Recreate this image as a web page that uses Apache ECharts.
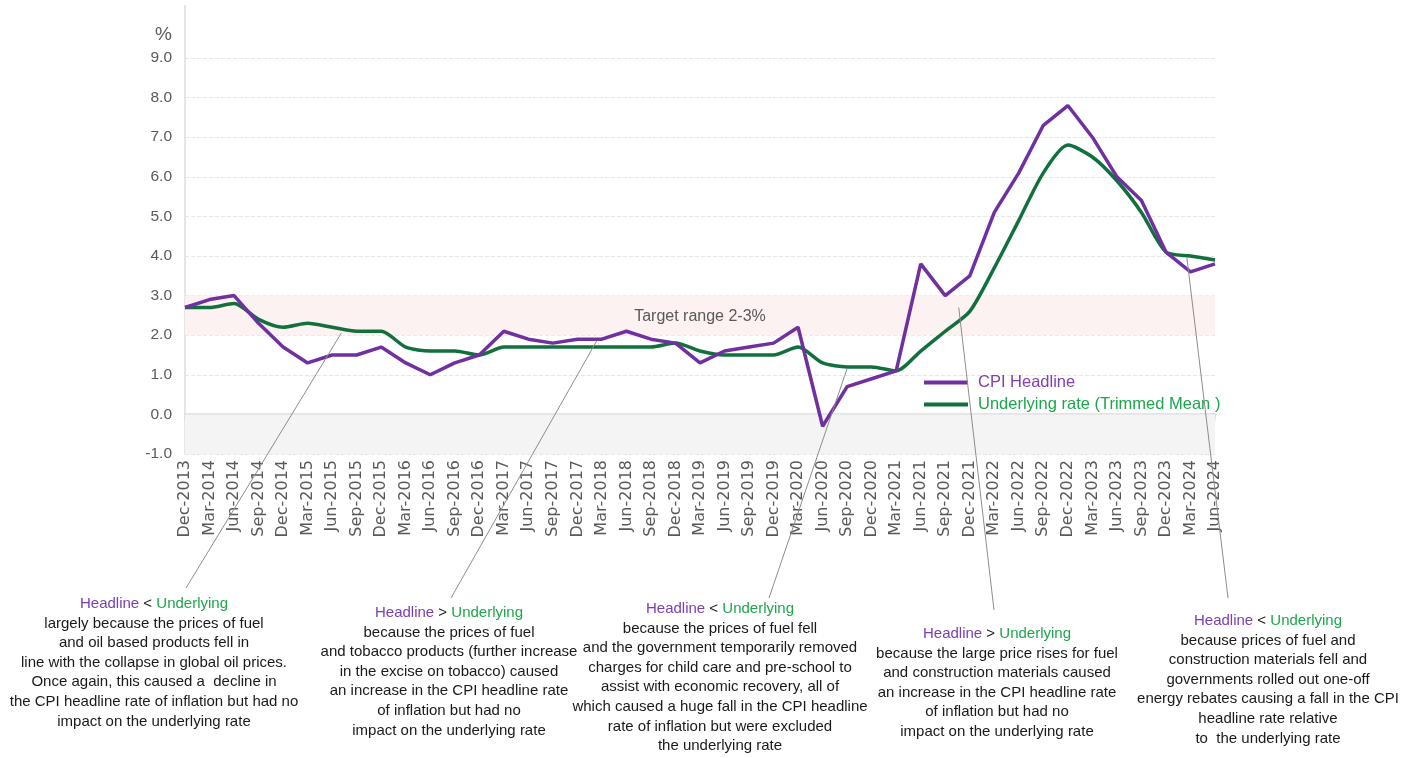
<!DOCTYPE html>
<html>
<head>
<meta charset="utf-8">
<script src="https://cdn.jsdelivr.net/npm/echarts@6/dist/echarts.min.js"></script>
<style>
    html, body { margin: 0; padding: 0; background: #fff; }
    #lineChartId { width: 1415px; height: 758px; }
</style>
</head>
<body>
<div id="lineChartId"></div>
<script>
const categories = [
    'Dec-2013', 'Mar-2014', 'Jun-2014', 'Sep-2014', 'Dec-2014', 'Mar-2015', 'Jun-2015', 'Sep-2015',
    'Dec-2015', 'Mar-2016', 'Jun-2016', 'Sep-2016', 'Dec-2016', 'Mar-2017', 'Jun-2017', 'Sep-2017',
    'Dec-2017', 'Mar-2018', 'Jun-2018', 'Sep-2018', 'Dec-2018', 'Mar-2019', 'Jun-2019', 'Sep-2019',
    'Dec-2019', 'Mar-2020', 'Jun-2020', 'Sep-2020', 'Dec-2020', 'Mar-2021', 'Jun-2021', 'Sep-2021',
    'Dec-2021', 'Mar-2022', 'Jun-2022', 'Sep-2022', 'Dec-2022', 'Mar-2023', 'Jun-2023', 'Sep-2023',
    'Dec-2023', 'Mar-2024', 'Jun-2024',
];
const cpiHeadline = [
    2.7, 2.9, 3.0, 2.3, 1.7, 1.3, 1.5, 1.5, 1.7, 1.3, 1.0, 1.3, 1.5, 2.1, 1.9, 1.8,
    1.9, 1.9, 2.1, 1.9, 1.8, 1.3, 1.6, 1.7, 1.8, 2.2, -0.3, 0.7, 0.9, 1.1, 3.8, 3.0,
    3.5, 5.1, 6.1, 7.3, 7.8, 7.0, 6.0, 5.4, 4.1, 3.6, 3.8,
];
const trimmedMean = [
    2.7, 2.7, 2.8, 2.4, 2.2, 2.3, 2.2, 2.1, 2.1, 1.7, 1.6, 1.6, 1.5, 1.7, 1.7, 1.7,
    1.7, 1.7, 1.7, 1.7, 1.8, 1.6, 1.5, 1.5, 1.5, 1.7, 1.3, 1.2, 1.2, 1.1, 1.6, 2.1,
    2.6, 3.7, 4.9, 6.1, 6.8, 6.5, 5.9, 5.1, 4.1, 4.0, 3.9,
];
const targetRange = [2, 3];
const negativeBand = [-1, 0];

// annotation blocks: [heading sign, body lines]
const notes = [
    { sign: '<', lines: ['largely because the prices of fuel', 'and oil based products fell in', 'line with the collapse in global oil prices.', 'Once again, this caused a  decline in', 'the CPI headline rate of inflation but had no', 'impact on the underlying rate'] },
    { sign: '>', lines: ['because the prices of fuel', 'and tobacco products (further increase', 'in the excise on tobacco) caused', 'an increase in the CPI headline rate', 'of inflation but had no', 'impact on the underlying rate'] },
    { sign: '<', lines: ['because the prices of fuel fell', 'and the government temporarily removed', 'charges for child care and pre-school to', 'assist with economic recovery, all of', 'which caused a huge fall in the CPI headline', 'rate of inflation but were excluded', 'the underlying rate'] },
    { sign: '>', lines: ['because the large price rises for fuel', 'and construction materials caused', 'an increase in the CPI headline rate', 'of inflation but had no', 'impact on the underlying rate'] },
    { sign: '<', lines: ['because prices of fuel and', 'construction materials fell and', 'governments rolled out one-off', 'energy rebates causing a fall in the CPI', 'headline rate relative', 'to  the underlying rate'] },
];
// where each leader line touches the chart: [category index, value]
const leaderAnchors = [[6.37, 2.05], [16.8, 1.87], [27.0, 1.16], [31.55, 2.7], [40.85, 3.97]];

const PURPLE = '#7030a0';
const GREEN = '#11703b';
const TEXT_FONT = '"Liberation Sans Narrow", "Liberation Sans", sans-serif';

function initChart() {
    const itemChart = echarts.init(document.getElementById('lineChartId'));
    const option = {
        animation: false,
        grid: { left: 185, right: 200, top: 58, bottom: 304 },
        legend: {
            left: 919,
            top: 369,
            orient: 'vertical',
            itemWidth: 44,
            itemHeight: 4,
            itemGap: 5,
            icon: 'rect',
            textStyle: { fontSize: 16.5, fontFamily: TEXT_FONT, padding: [0, 0, 0, 5] },
            data: [
                { name: 'CPI Headline', textStyle: { color: '#8040b0' } },
                { name: 'Underlying rate (Trimmed Mean )', textStyle: { color: '#1ca64c' } },
            ],
        },
        xAxis: {
            type: 'category',
            data: categories,
            boundaryGap: false,
            axisLine: { onZero: true, lineStyle: { color: '#dcdcdc', width: 2.5 } },
            axisTick: { show: true, interval: 0, length: 6, lineStyle: { color: '#dcdcdc', width: 1.5 } },
            axisLabel: {
                interval: 0,
                rotate: 90,
                margin: 6,
                color: '#595959',
                fontSize: 16,
                fontFamily: '"DejaVu Sans", sans-serif',
            },
        },
        yAxis: {
            type: 'value',
            min: -1,
            max: 9,
            interval: 1,
            name: '%',
            nameLocation: 'end',
            nameGap: 14,
            nameTextStyle: { color: '#595959', fontSize: 19, fontFamily: TEXT_FONT, align: 'right', padding: [0, 13, 0, 0] },
            axisLine: { show: true, lineStyle: { color: '#dcdcdc', width: 1.5 } },
            axisTick: { show: false },
            axisLabel: {
                margin: 13,
                color: '#595959',
                fontSize: 15.5,
                fontFamily: TEXT_FONT,
                formatter: (v) => v.toFixed(1),
            },
            splitLine: { show: true, lineStyle: { color: '#e6e6e6', type: 'dashed' } },
        },
        series: [
            {
                name: 'CPI Headline',
                type: 'line',
                data: cpiHeadline,
                showSymbol: false,
                color: PURPLE,
                lineStyle: { width: 3.5, color: PURPLE },
                z: 3,
                markArea: {
                    silent: true,
                    data: [
                        [{ yAxis: targetRange[0], itemStyle: { color: '#fdf2f2' } }, { yAxis: targetRange[1] }],
                        [{ yAxis: negativeBand[0], itemStyle: { color: '#f4f4f4' } }, { yAxis: negativeBand[1] }],
                    ],
                },
            },
            {
                name: 'Underlying rate (Trimmed Mean )',
                type: 'line',
                data: trimmedMean,
                showSymbol: false,
                smooth: 0.25,
                color: GREEN,
                lineStyle: { width: 3.5, color: GREEN },
                z: 2,
            },
        ],
    };
    itemChart.setOption(option, true);

    // pixel of a (fractional) category index / value pair
    const toPixel = (idx, val) => {
        const lo = Math.floor(idx);
        const hi = Math.min(lo + 1, categories.length - 1);
        const p0 = itemChart.convertToPixel({ seriesIndex: 0 }, [lo, val]);
        const p1 = itemChart.convertToPixel({ seriesIndex: 0 }, [hi, val]);
        return [p0[0] + (p1[0] - p0[0]) * (idx - lo), p0[1]];
    };

    const noteBoxes = [
        { x: 154, y: 594, endX: 186, endY: 588 },
        { x: 449, y: 603, endX: 451, endY: 598 },
        { x: 720, y: 599, endX: 769, endY: 598 },
        { x: 997, y: 624, endX: 994, endY: 610 },
        { x: 1268, y: 611, endX: 1228, endY: 598 },
    ];

    const graphic = [];
    const axisTop = itemChart.convertToPixel({ yAxisIndex: 0 }, 9);
    const axisX = itemChart.convertToPixel({ xAxisIndex: 0 }, 0);
    graphic.push({
        type: 'line',
        shape: { x1: axisX, y1: 5, x2: axisX, y2: axisTop },
        style: { stroke: '#dcdcdc', lineWidth: 1.5 },
    });

    const target = toPixel(categories.indexOf('Mar-2019'), 2.48);
    graphic.push({
        type: 'text',
        z: 100,
        x: target[0],
        y: target[1],
        style: { text: 'Target range 2-3%', fill: '#595959', font: '16px ' + TEXT_FONT, align: 'center', verticalAlign: 'middle' },
    });

    notes.forEach((note, i) => {
        const box = noteBoxes[i];
        const top = toPixel(leaderAnchors[i][0], leaderAnchors[i][1]);
        graphic.push({
            type: 'line',
            z: 10,
            shape: { x1: top[0], y1: top[1], x2: box.endX, y2: box.endY },
            style: { stroke: '#8c8c8c', lineWidth: 1 },
        });
        graphic.push({
            type: 'text',
            x: box.x,
            y: box.y,
            style: {
                text: '{h|Headline} ' + note.sign + ' {u|Underlying}\n' + note.lines.join('\n'),
                fill: '#1a1a1a',
                font: '15px ' + TEXT_FONT,
                align: 'center',
                verticalAlign: 'top',
                lineHeight: 19.6,
                rich: {
                    h: { fill: '#7b3db5', font: '15px ' + TEXT_FONT, lineHeight: 19.6 },
                    u: { fill: '#1ea64b', font: '15px ' + TEXT_FONT, lineHeight: 19.6 },
                },
            },
        });
    });
    itemChart.setOption({ graphic: graphic });
}

initChart();
</script>
</body>
</html>
